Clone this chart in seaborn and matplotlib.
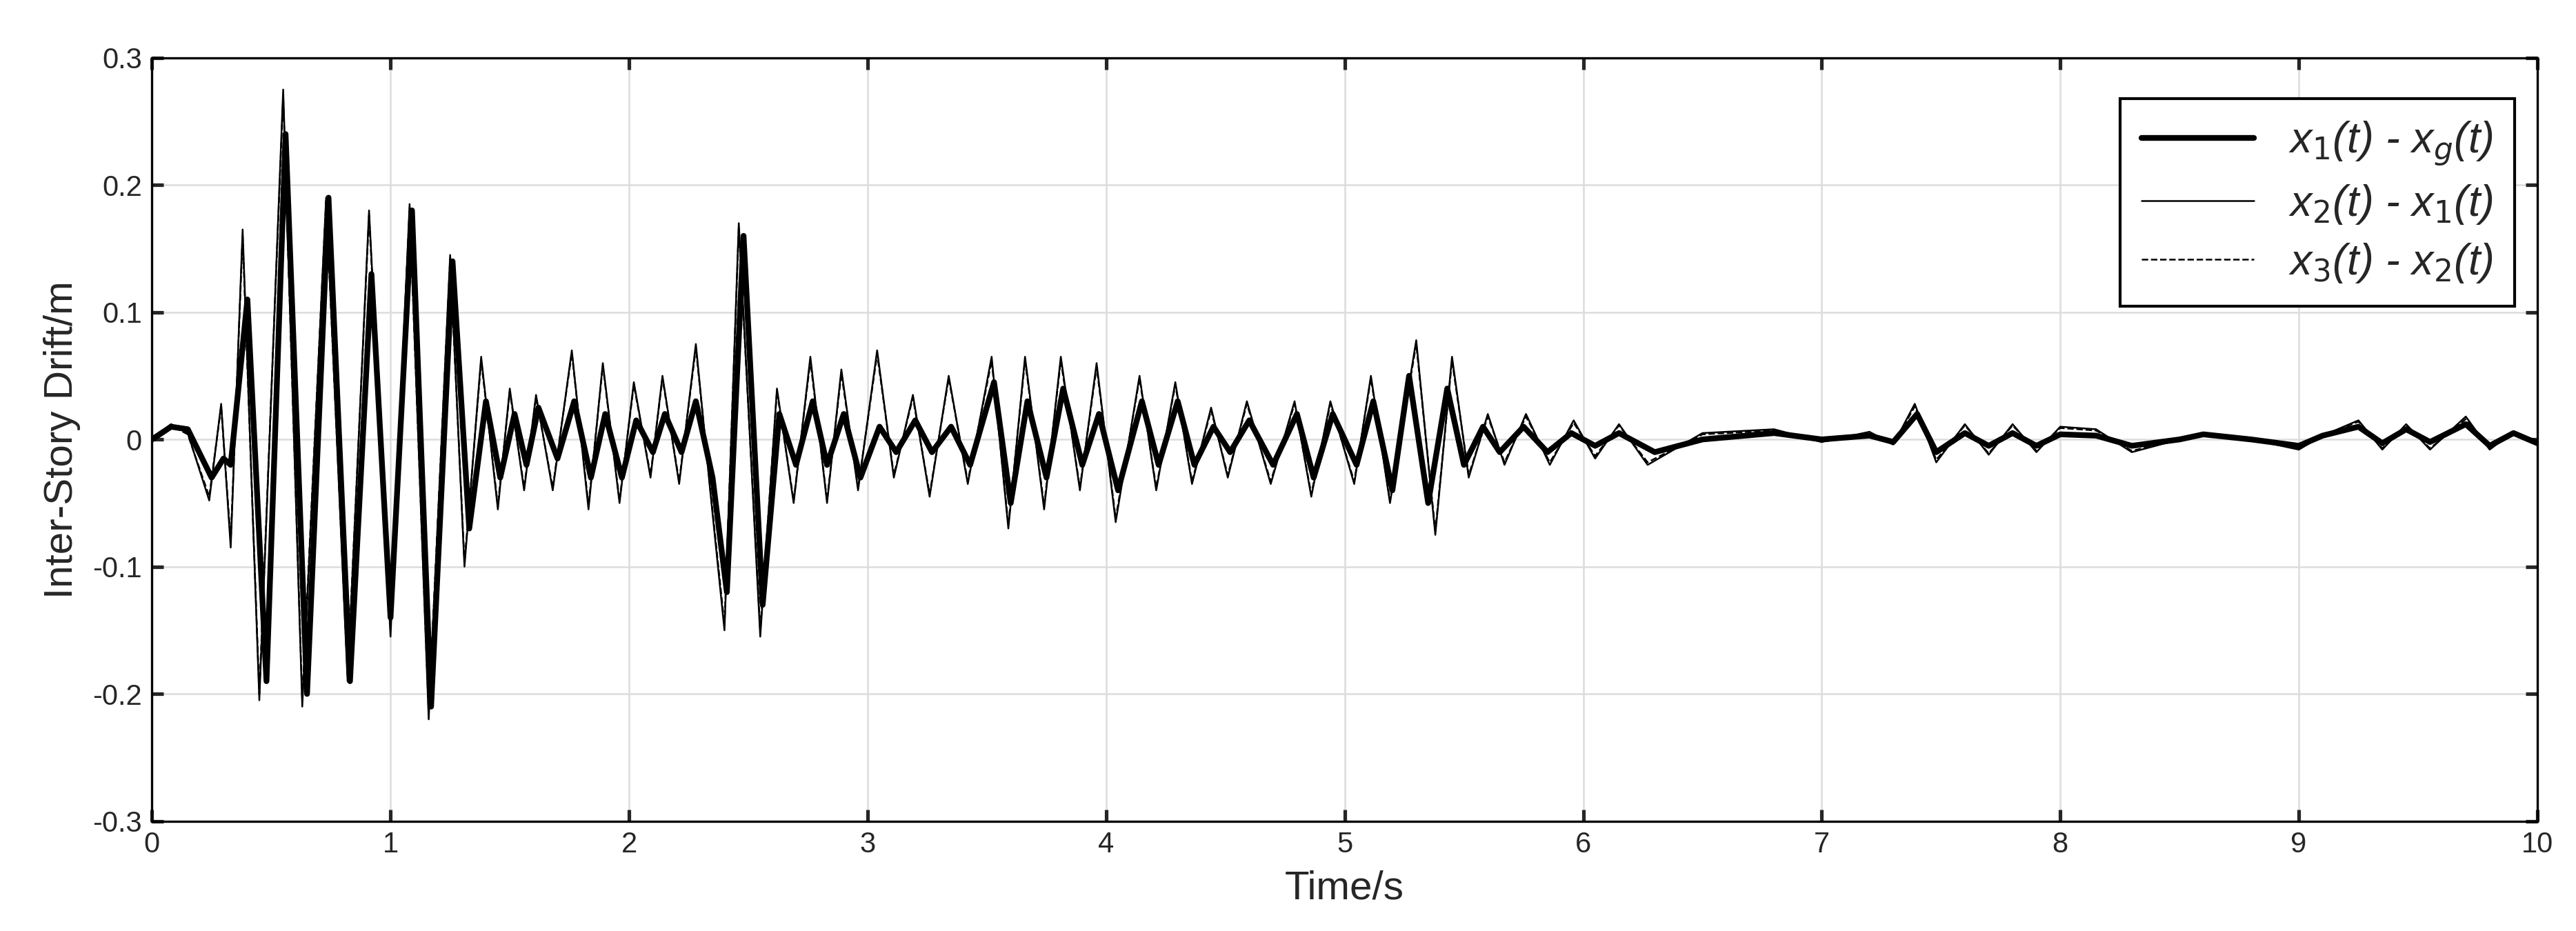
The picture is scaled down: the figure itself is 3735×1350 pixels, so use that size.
import numpy as np
import matplotlib
matplotlib.use("Agg")
import matplotlib.pyplot as plt
import seaborn as sns
import pandas as pd

# series 1: x1(t)-xg(t), extrema (time, value)
t1 = [0,0.08,0.15,0.25,0.3,0.33,0.4,0.48,0.56,0.65,0.74,0.83,0.92,1.0,1.09,1.17,1.26,1.33,1.4,1.46,1.52,1.57,1.62,1.7,1.77,1.84,1.9,1.97,2.03,2.1,2.15,2.22,2.28,2.35,2.41,2.48,2.56,2.63,2.7,2.77,2.83,2.9,2.97,3.05,3.12,3.2,3.27,3.35,3.43,3.53,3.6,3.67,3.75,3.82,3.9,3.97,4.05,4.15,4.22,4.3,4.37,4.45,4.52,4.6,4.7,4.8,4.87,4.95,5.05,5.12,5.2,5.27,5.35,5.43,5.5,5.58,5.65,5.75,5.85,5.95,6.05,6.15,6.3,6.5,6.8,7.0,7.2,7.3,7.4,7.48,7.6,7.7,7.8,7.9,8.0,8.15,8.3,8.5,8.6,8.8,9.0,9.1,9.25,9.35,9.45,9.55,9.7,9.8,9.9,10.0]
v1 = [0,0.01,0.008,-0.03,-0.015,-0.02,0.11,-0.19,0.24,-0.2,0.19,-0.19,0.13,-0.14,0.18,-0.21,0.14,-0.07,0.03,-0.03,0.02,-0.02,0.025,-0.015,0.03,-0.03,0.02,-0.03,0.015,-0.01,0.02,-0.01,0.03,-0.03,-0.12,0.16,-0.13,0.02,-0.02,0.03,-0.02,0.02,-0.03,0.01,-0.01,0.015,-0.01,0.01,-0.02,0.045,-0.05,0.03,-0.03,0.04,-0.02,0.02,-0.04,0.03,-0.02,0.03,-0.02,0.01,-0.01,0.015,-0.02,0.02,-0.03,0.02,-0.02,0.03,-0.04,0.05,-0.05,0.04,-0.02,0.01,-0.01,0.01,-0.01,0.005,-0.005,0.005,-0.01,0.0,0.005,0.0,0.003,-0.002,0.02,-0.01,0.005,-0.005,0.005,-0.005,0.004,0.003,-0.005,0.0,0.004,0.0,-0.005,0.003,0.01,-0.003,0.008,-0.002,0.012,-0.005,0.005,-0.003]

# series 2: x2(t)-x1(t)
t2 = [0,0.08,0.15,0.24,0.29,0.33,0.38,0.45,0.55,0.63,0.73,0.82,0.91,1.0,1.08,1.16,1.25,1.31,1.38,1.45,1.5,1.56,1.61,1.68,1.76,1.83,1.89,1.96,2.02,2.09,2.14,2.21,2.28,2.34,2.4,2.46,2.55,2.62,2.69,2.76,2.83,2.89,2.96,3.04,3.11,3.19,3.26,3.34,3.42,3.52,3.59,3.66,3.74,3.81,3.89,3.96,4.04,4.14,4.21,4.29,4.36,4.44,4.51,4.59,4.69,4.79,4.86,4.94,5.04,5.11,5.19,5.3,5.38,5.45,5.52,5.6,5.67,5.76,5.86,5.96,6.05,6.15,6.27,6.5,6.8,7.0,7.2,7.3,7.39,7.48,7.6,7.7,7.8,7.9,8.0,8.15,8.3,8.5,8.6,8.8,9.0,9.1,9.25,9.35,9.45,9.55,9.7,9.8,9.9,10.0]
v2 = [0,0.012,0.005,-0.048,0.028,-0.085,0.165,-0.205,0.275,-0.21,0.19,-0.19,0.18,-0.155,0.185,-0.22,0.145,-0.1,0.065,-0.055,0.04,-0.04,0.035,-0.04,0.07,-0.055,0.06,-0.05,0.045,-0.03,0.05,-0.035,0.075,-0.04,-0.15,0.17,-0.155,0.04,-0.05,0.065,-0.05,0.055,-0.04,0.07,-0.03,0.035,-0.045,0.05,-0.035,0.065,-0.07,0.065,-0.055,0.065,-0.04,0.06,-0.065,0.05,-0.04,0.045,-0.035,0.025,-0.03,0.03,-0.035,0.03,-0.045,0.03,-0.035,0.05,-0.05,0.078,-0.075,0.065,-0.03,0.02,-0.02,0.02,-0.02,0.015,-0.015,0.012,-0.02,0.005,0.008,-0.002,0.006,-0.004,0.028,-0.018,0.012,-0.012,0.012,-0.01,0.01,0.008,-0.01,0.0,0.005,0.0,-0.008,0.003,0.015,-0.008,0.012,-0.008,0.018,-0.008,0.006,-0.004]

# series 3: x3(t)-x2(t), close to series 2
v3 = [0,0.011,0.004,-0.045,0.026,-0.08,0.16,-0.2,0.27,-0.205,0.188,-0.186,0.176,-0.15,0.182,-0.215,0.142,-0.097,0.062,-0.052,0.038,-0.038,0.033,-0.038,0.068,-0.052,0.058,-0.048,0.043,-0.028,0.048,-0.033,0.072,-0.038,-0.146,0.166,-0.15,0.038,-0.048,0.062,-0.048,0.052,-0.038,0.067,-0.028,0.033,-0.043,0.048,-0.033,0.062,-0.067,0.062,-0.052,0.062,-0.038,0.057,-0.062,0.048,-0.038,0.043,-0.033,0.023,-0.028,0.028,-0.033,0.028,-0.043,0.028,-0.033,0.048,-0.048,0.075,-0.072,0.062,-0.028,0.018,-0.018,0.018,-0.018,0.013,-0.013,0.011,-0.018,0.004,0.007,-0.002,0.005,-0.004,0.026,-0.016,0.011,-0.011,0.011,-0.009,0.009,0.007,-0.009,0.0,0.004,0.0,-0.007,0.003,0.014,-0.007,0.011,-0.007,0.016,-0.007,0.005,-0.004]

labels = ["x$_1$(t) - x$_g$(t)", "x$_2$(t) - x$_1$(t)", "x$_3$(t) - x$_2$(t)"]

sns.set_theme(style="whitegrid")
plt.rcParams['font.family'] = ['Arial', 'Liberation Sans', 'DejaVu Sans']
plt.rcParams['mathtext.default'] = 'it'
fig = plt.figure(figsize=(12.45, 4.5), dpi=300)
ax = fig.add_axes([0.059, 0.118, 0.926, 0.82])

df1 = pd.DataFrame({"t": t1, "v": v1})
df2 = pd.DataFrame({"t": t2, "v": v2})
df3 = pd.DataFrame({"t": t2, "v": v3})
sns.lineplot(data=df3, x="t", y="v", ax=ax, color="black", lw=0.6, ls="--", sort=False, label=labels[2])
sns.lineplot(data=df2, x="t", y="v", ax=ax, color="black", lw=0.6, sort=False, label=labels[1])
sns.lineplot(data=df1, x="t", y="v", ax=ax, color="black", lw=2.0, sort=False, label=labels[0])

h, l = ax.get_legend_handles_labels()
leg = ax.legend(h[::-1], l[::-1], loc="upper right", bbox_to_anchor=(0.9995, 0.975),
                prop={"size": 15, "style": "italic"}, labelspacing=0.35,
                frameon=True, fancybox=False, edgecolor="black", handlelength=2.6,
                borderpad=0.5)
leg.get_frame().set_linewidth(1.0)
leg.get_frame().set_alpha(1.0)

ax.set_xlim(0, 10)
ax.set_ylim(-0.3, 0.3)
ax.set_xticks(np.arange(0, 11, 1))
ax.set_yticks(np.round(np.arange(-0.3, 0.31, 0.1), 1))
ax.set_yticklabels(["-0.3", "-0.2", "-0.1", "0", "0.1", "0.2", "0.3"])
ax.tick_params(labelsize=10, colors="#262626", direction="in", length=4, left=True, bottom=True, right=True, top=True)
ax.grid(True, color="#dcdcdc", lw=0.6)
for s in ax.spines.values():
    s.set_color("black"); s.set_linewidth(0.8)
ax.set_xlabel("Time/s", fontsize=14, color="#262626")
ax.set_ylabel("Inter-Story Drift/m", fontsize=14, color="#262626")
fig.savefig("out.png", dpi=300, facecolor="white")
